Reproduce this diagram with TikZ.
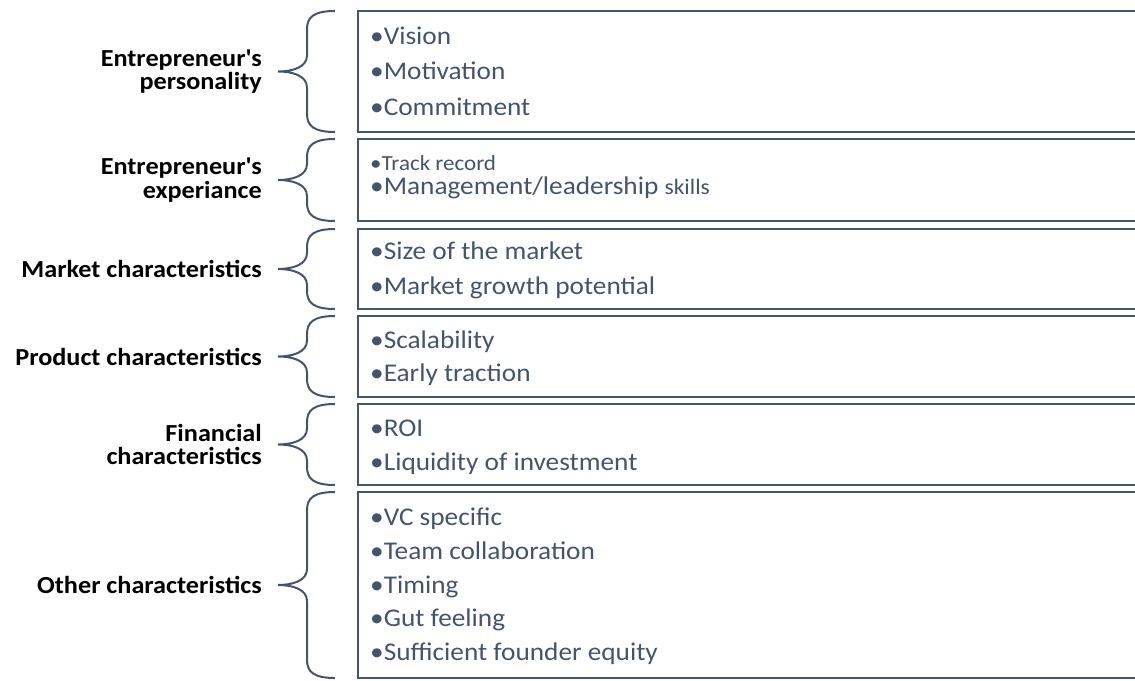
\documentclass[tikz,border=0pt]{standalone}
\usepackage{fontspec}
\setmainfont{Carlito}[FakeStretch=1.07]
\usetikzlibrary{positioning,calc}
\definecolor{slate}{HTML}{44546A}

\tikzset{
  catbox/.style={draw=slate, line width=2pt, anchor=north west, minimum width=800pt,
    inner sep=0pt, outer sep=0pt},
  catlabel/.style={font=\bfseries\fontsize{24.5}{23.5}\selectfont, align=right, inner sep=0pt},
  itemtext/.style={text=slate, font=\fontsize{25.5}{30}\selectfont, anchor=base west, inner sep=0pt},
  bracepath/.style={draw=slate, line width=2pt},
}

% curly brace standing left of a box, tip pointing left
\newcommand{\catbrace}[1]{%
  \draw[bracepath] let \p1=(#1.north west), \p2=(#1.south west), \p3=(#1.west) in
    (\x1-23pt,\y1) .. controls (\x1-44pt,\y1) and (\x1-51pt,\y1-6pt) .. (\x1-51pt,\y1-18pt)
    -- (\x1-51pt,\y3+16pt) .. controls (\x1-51pt,\y3+4pt) and (\x1-66pt,\y3) .. (\x1-80pt,\y3)
    .. controls (\x1-66pt,\y3) and (\x1-51pt,\y3-4pt) .. (\x1-51pt,\y3-16pt)
    -- (\x1-51pt,\y2+18pt) .. controls (\x1-51pt,\y2+6pt) and (\x1-44pt,\y2) .. (\x1-23pt,\y2);
  \coordinate (#1-tip) at ($(#1.west)+(-80,0)$);
}

\begin{document}
\begin{tikzpicture}[x=1pt,y=-1pt]
  \useasboundingbox (0,0) rectangle (1135,680);

  % boxes
  \node[catbox, minimum height=121pt] (pers) at (358,11) {};
  \node[catbox, minimum height=82pt, below=7pt of pers] (expe) {};
  \node[catbox, minimum height=80pt, below=8pt of expe] (mark) {};
  \node[catbox, minimum height=81pt, below=7pt of mark] (prod) {};
  \node[catbox, minimum height=81pt, below=7pt of prod] (fina) {};
  \node[catbox, minimum height=186pt, below=7pt of fina] (other) {};

  % braces
  \catbrace{pers}
  \catbrace{expe}
  \catbrace{mark}
  \catbrace{prod}
  \catbrace{fina}
  \catbrace{other}

  % category labels
  \node[catlabel, left=16pt of pers-tip] (pers-lbl) {Entrepreneur\textquotesingle s\\personality};
  \node[catlabel, left=16pt of expe-tip] (expe-lbl) {Entrepreneur\textquotesingle s\\experiance};
  \node[catlabel, left=16pt of mark-tip] (mark-lbl) {Market characteristics};
  \node[catlabel, left=16pt of prod-tip] (prod-lbl) {Product characteristics};
  \node[catlabel, left=16pt of fina-tip] (fina-lbl) {Financial\\characteristics};
  \node[catlabel, left=16pt of other-tip] (other-lbl) {Other characteristics};

  % bullet items
  \foreach \txt [count=\i from 0] in {Vision, Motivation, Commitment}
    \node[itemtext] (pers-\i) at ($(pers.north west)+(12,33+35.5*\i)$) {•\txt};
  \node[itemtext, font=\fontsize{21.5}{26}\selectfont] (expe-0) at ($(expe.north west)+(12,31)$) {•Track record};
  \node[itemtext] (expe-1) at ($(expe.north west)+(12,55)$)
    {•Management/leadership {\fontsize{22}{26}\selectfont skills}};
  \foreach \txt [count=\i from 0] in {Size of the market, Market growth potential}
    \node[itemtext] (mark-\i) at ($(mark.north west)+(12,30+35*\i)$) {•\txt};
  \foreach \txt [count=\i from 0] in {Scalability, Early traction}
    \node[itemtext] (prod-\i) at ($(prod.north west)+(12,32+33*\i)$) {•\txt};
  \foreach \txt [count=\i from 0] in {ROI, Liquidity of investment}
    \node[itemtext] (fina-\i) at ($(fina.north west)+(12,32+34*\i)$) {•\txt};
  \foreach \txt [count=\i from 0] in {VC specific, Team collaboration, Timing, Gut feeling, Sufficient founder equity}
    \node[itemtext] (other-\i) at ($(other.north west)+(12,33.7+33.7*\i)$) {•\txt};
\end{tikzpicture}
\end{document}
